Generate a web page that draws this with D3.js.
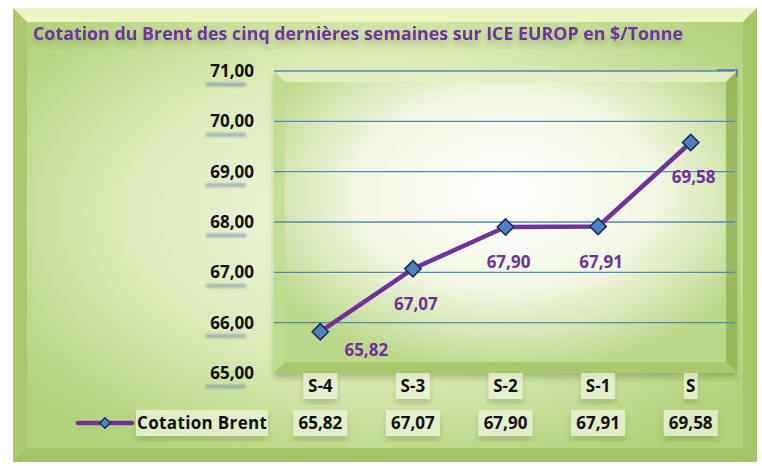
<!DOCTYPE html>
<html>
<head>
<meta charset="utf-8">
<script src="https://cdn.jsdelivr.net/npm/d3@7"></script>
<style>
  body { margin: 0; background: #fff; }
  text { font-family: "Open Sans", Lato, sans-serif; font-weight: bold; }
</style>
</head>
<body>
<svg class="chart" width="762" height="466"></svg>
<script>
// données
const weeks = ["S-4", "S-3", "S-2", "S-1", "S"];
const brent = [65.82, 67.07, 67.9, 67.91, 69.58];
const yTicks = [65, 66, 67, 68, 69, 70, 71];
const labelSide = ["right", "below", "below", "below", "below"];
const seriesName = "Cotation Brent";
const title = "Cotation du Brent des cinq dernières semaines sur ICE EUROP en $/Tonne";

const fmt = (v) => v.toFixed(2).replace(".", ",");

const svg = d3.select(".chart");
const defs = svg.append("defs");

/*
      Dégradés
*/
const outerGrad = defs.append("radialGradient").attr("id", "outerGrad")
  .attr("cx", "50%").attr("cy", "45%").attr("r", "65%");
outerGrad.append("stop").attr("offset", "0%").attr("stop-color", "#f6faea");
outerGrad.append("stop").attr("offset", "55%").attr("stop-color", "#dcebb8");
outerGrad.append("stop").attr("offset", "100%").attr("stop-color", "#b2d27a");

const plotGrad = defs.append("radialGradient").attr("id", "plotGrad")
  .attr("cx", "50%").attr("cy", "40%").attr("r", "60%");
plotGrad.append("stop").attr("offset", "0%").attr("stop-color", "#ffffff");
plotGrad.append("stop").attr("offset", "55%").attr("stop-color", "#f1f7e2");
plotGrad.append("stop").attr("offset", "100%").attr("stop-color", "#bcd889");

const blur = defs.append("filter").attr("id", "blur")
  .attr("x", "-30%").attr("y", "-100%").attr("width", "160%").attr("height", "300%");
blur.append("feGaussianBlur").attr("stdDeviation", 1.6);

const softShadow = defs.append("filter").attr("id", "soft")
  .attr("x", "-10%").attr("y", "-10%").attr("width", "120%").attr("height", "130%");
softShadow.append("feDropShadow").attr("dx", 0).attr("dy", 5).attr("stdDeviation", 3)
  .attr("flood-color", "#556b2f").attr("flood-opacity", 0.35);

/*
      Cadre extérieur
*/
const ox0 = 13, oy0 = 8, ox1 = 757, oy1 = 462, bev = 14;
svg.append("rect").attr("x", ox0).attr("y", oy0).attr("width", ox1 - ox0).attr("height", oy1 - oy0)
  .attr("fill", "#b6d47e");
const bevel = (pts, fill) => svg.append("polygon").attr("points", pts.map((p) => p.join(",")).join(" ")).attr("fill", fill);
bevel([[ox0, oy0], [ox1, oy0], [ox1 - bev, oy0 + bev], [ox0 + bev, oy0 + bev]], "#eef5c4");
bevel([[ox0, oy0], [ox0 + bev, oy0 + bev], [ox0 + bev, oy1 - bev], [ox0, oy1]], "#acc970");
bevel([[ox1, oy0], [ox1, oy1], [ox1 - bev, oy1 - bev], [ox1 - bev, oy0 + bev]], "#a5c566");
bevel([[ox0, oy1], [ox1, oy1], [ox1 - bev, oy1 - bev], [ox0 + bev, oy1 - bev]], "#a3c364");
svg.append("rect").attr("x", ox0 + bev).attr("y", oy0 + bev)
  .attr("width", ox1 - ox0 - 2 * bev).attr("height", oy1 - oy0 - 2 * bev)
  .attr("fill", "url(#outerGrad)");

/*
      Titre
*/
svg.append("text").attr("x", 33).attr("y", 40)
  .attr("font-size", 17.5).attr("fill", "#7030a0")
  .attr("textLength", 650).attr("lengthAdjust", "spacingAndGlyphs")
  .attr("filter", "url(#soft)")
  .text(title);

/*
      Zone de tracé
*/
const px0 = 274, px1 = 737, py0 = 71, py1 = 373;
const x = d3.scaleBand().domain(weeks).range([px0, px1]);
const y = d3.scaleLinear().domain([d3.min(yTicks), d3.max(yTicks)]).range([py1, py0]);

const pb = 11;
svg.append("rect").attr("x", px0).attr("y", py0).attr("width", px1 - px0).attr("height", py1 - py0)
  .attr("fill", "url(#plotGrad)").attr("filter", "url(#soft)");
const pbevel = (pts, fill, op) => svg.append("polygon")
  .attr("points", pts.map((p) => p.join(",")).join(" ")).attr("fill", fill).attr("opacity", op);
pbevel([[px0, py0], [px1, py0], [px1 - pb, py0 + pb], [px0 + pb, py0 + pb]], "#e4efc4", 0.9);
pbevel([[px0, py0], [px0 + pb, py0 + pb], [px0 + pb, py1 - pb], [px0, py1]], "#c2dc90", 0.7);
pbevel([[px1, py0], [px1, py1], [px1 - pb, py1 - pb], [px1 - pb, py0 + pb]], "#8fb04e", 0.8);
pbevel([[px0, py1], [px1, py1], [px1 - pb, py1 - pb], [px0 + pb, py1 - pb]], "#a4c466", 0.8);

// grille
svg.append("g").selectAll("line").data(yTicks.slice(1)).join("line")
  .attr("x1", px0).attr("x2", px1 - 2)
  .attr("y1", (d) => y(d)).attr("y2", (d) => y(d))
  .attr("stroke", "#5a85b8").attr("stroke-width", 1.4);
svg.append("path").attr("d", `M${px1 - 20},${py0 - 1}H${px1}V${py0 + 6}`)
  .attr("fill", "none").attr("stroke", "#4a7cc0").attr("stroke-width", 1.6);

/*
      Axe Y
*/
const yLab = svg.append("g");
yTicks.forEach((t) => {
  const g = yLab.append("g").attr("transform", `translate(254,${y(t)})`);
  g.append("rect").attr("x", -48).attr("y", 12).attr("width", 40).attr("height", 3)
    .attr("fill", "#6a7fa8").attr("opacity", 0.7).attr("filter", "url(#blur)");
  g.append("text").attr("text-anchor", "end").attr("dy", 6)
    .attr("font-size", 17).attr("fill", "#111").text(fmt(t));
});

/*
      Série
*/
const line = d3.line().x((d, i) => x(weeks[i]) + x.bandwidth() / 2).y((d) => y(d));
svg.append("path").datum(brent).attr("d", line)
  .attr("fill", "none").attr("stroke", "#7030a0").attr("stroke-width", 4.5)
  .attr("stroke-linejoin", "round");

const diamond = d3.symbol().type(d3.symbolDiamond2).size(170);
svg.append("g").selectAll("path").data(brent).join("path")
  .attr("d", diamond)
  .attr("transform", (d, i) => `translate(${x(weeks[i]) + x.bandwidth() / 2},${y(d)})`)
  .attr("fill", "#4f81bd").attr("stroke", "#14305a").attr("stroke-width", 1.6);

svg.append("g").selectAll("text").data(brent).join("text")
  .attr("x", (d, i) => x(weeks[i]) + x.bandwidth() / 2 + (labelSide[i] === "right" ? 46 : 3))
  .attr("y", (d, i) => y(d) + (labelSide[i] === "right" ? 24 : 41))
  .attr("text-anchor", "middle").attr("font-size", 17).attr("fill", "#7030a0")
  .text((d) => fmt(d));

/*
      Table de données
*/
const cell = (g, txt, w) => {
  g.append("rect").attr("x", -w / 2).attr("y", -13).attr("width", w).attr("height", 26)
    .attr("fill", "#eef5dc").attr("opacity", 0.75).attr("filter", "url(#soft)");
  g.append("text").attr("text-anchor", "middle").attr("dy", 6)
    .attr("font-size", 17).attr("fill", "#111").text(txt);
};
weeks.forEach((w, i) => {
  const cx = x(w) + x.bandwidth() / 2;
  cell(svg.append("g").attr("transform", `translate(${cx},386)`), w, w.length * 10 + 4);
  cell(svg.append("g").attr("transform", `translate(${cx},423)`), fmt(brent[i]), 54);
});

// légende
const lg = svg.append("g").attr("transform", "translate(0,423)");
lg.append("rect").attr("x", 136).attr("y", -13).attr("width", 132).attr("height", 26)
  .attr("fill", "#eef5dc").attr("opacity", 0.75).attr("filter", "url(#soft)");
lg.append("line").attr("x1", 78).attr("x2", 132).attr("y1", 0).attr("y2", 0)
  .attr("stroke", "#7030a0").attr("stroke-width", 4.5).attr("stroke-linecap", "round");
lg.append("path").attr("d", d3.symbol().type(d3.symbolDiamond2).size(70))
  .attr("transform", "translate(105,0)")
  .attr("fill", "#4f81bd").attr("stroke", "#14305a").attr("stroke-width", 1.4);
lg.append("text").attr("x", 137).attr("dy", 6).attr("font-size", 17).attr("fill", "#111")
  .attr("textLength", 130).text(seriesName);
</script>
</body>
</html>
